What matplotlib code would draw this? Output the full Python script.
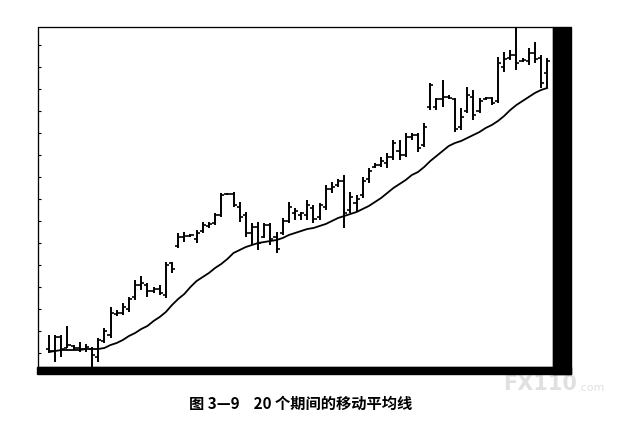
import matplotlib.pyplot as plt
from matplotlib.patches import Rectangle

plt.rcParams['font.family'] = ['Noto Sans CJK SC', 'DejaVu Sans']

# bar data (arbitrary price units)
highs = [38, 38, 38, 47, 28, 31, 29, 26, 35, 45, 66, 63, 70, 76, 93, 97, 90, 86, 88, 111,
         111, 140, 141, 139, 143, 151, 151, 160, 180, 180, 181, 171, 161, 150, 151, 150, 150, 141, 155, 171,
         165, 161, 173, 168, 170, 188, 191, 194, 198, 181, 178, 196, 205, 210, 216, 220, 233, 233, 240, 240,
         240, 250, 290, 275, 293, 278, 275, 265, 286, 283, 275, 276, 276, 316, 321, 323, 346, 315, 325, 331,
         318, 315]
lows = [20, 11, 16, 25, 23, 21, 21, 6, 11, 30, 35, 57, 58, 61, 73, 83, 76, 80, 78, 75,
        100, 125, 131, 136, 130, 140, 145, 148, 156, 178, 166, 151, 136, 128, 123, 135, 128, 120, 138, 150,
        153, 153, 153, 150, 153, 163, 180, 186, 145, 160, 161, 175, 190, 205, 206, 205, 213, 213, 216, 233,
        221, 226, 263, 263, 266, 274, 241, 243, 260, 253, 260, 273, 268, 270, 301, 313, 303, 311, 308, 310,
        285, 285]
opens = [24, 22, 36, 25, 27, 25, 24, 24, 16, 32, 38, 59, 60, 64, 76, 88, 88, 82, 84, 78,
         110, 127, 136, 137, 134, 142, 147, 150, 158, 179, 179, 166, 158, 140, 146, 136, 148, 136, 140, 152,
         160, 158, 158, 165, 156, 166, 184, 188, 192, 163, 170, 178, 194, 206, 208, 210, 216, 222, 218, 236,
         238, 228, 266, 266, 274, 276, 274, 246, 262, 276, 262, 274, 275, 272, 306, 315, 318, 312, 312, 320,
         315, 300]
closes = [22, 36, 24, 28, 25, 24, 26, 18, 33, 42, 60, 60, 66, 74, 88, 90, 82, 84, 80, 108,
          104, 136, 137, 138, 140, 148, 149, 158, 178, 179, 168, 156, 140, 146, 130, 148, 134, 124, 152, 166,
          162, 160, 168, 154, 168, 184, 186, 192, 160, 176, 174, 192, 202, 208, 212, 216, 230, 218, 236, 238,
          225, 246, 288, 274, 276, 275, 244, 256, 278, 258, 272, 275, 270, 310, 314, 318, 310, 313, 320, 314,
          290, 312]
# 20-period moving average line as drawn
ma20 = [21, 22, 23, 23, 23, 23, 24, 24, 24, 25, 28, 30, 33, 37, 40, 44, 47, 52, 56, 61,
        68, 74, 79, 86, 92, 96, 100, 105, 109, 114, 120, 123, 126, 128, 130, 131, 132, 133, 135, 138,
        140, 142, 144, 145, 147, 149, 152, 155, 157, 159, 161, 164, 167, 171, 175, 180, 185, 189, 193, 198,
        201, 206, 212, 217, 222, 227, 230, 232, 235, 238, 241, 245, 248, 252, 257, 263, 268, 272, 276, 280,
        283, 285]

caption = "图 3—9    20 个期间的移动平均线"

W, H = 619, 422
fig = plt.figure(figsize=(W / 100, H / 100), dpi=100)
ax = fig.add_axes([38 / W, (H - 367) / H, (553 - 38) / W, (367 - 27) / H])

idx = list(range(len(highs)))
ax.vlines(idx, lows, highs, color='black', lw=1.4)
tick = 0.5
ax.hlines(opens, [i - tick for i in idx], idx, color='black', lw=1.2)
ax.hlines(closes, idx, [i + tick for i in idx], color='black', lw=1.2)
ax.plot(idx, ma20, color='black', lw=1.3)

ax.set_xlim(-1.79, 81.95)
ax.set_ylim(6, 346)
ax.set_xticks([])
ax.set_yticks(range(20, 346, 22))
ax.tick_params(axis='y', direction='in', length=2, width=0.8, labelleft=False)
for s in ax.spines.values():
    s.set_linewidth(0.9)
    s.set_linestyle((0, (1, 0.6)))

# black bands on the right and bottom of the frame
fig.patches.append(Rectangle((553 / W, (H - 374) / H), 18 / W, 347 / H,
                             transform=fig.transFigure, color='black', zorder=5))
fig.patches.append(Rectangle((37 / W, (H - 374) / H), 534 / W, 7 / H,
                             transform=fig.transFigure, color='black', zorder=5))

# watermark
fig.text(503 / W, (H - 384) / H, "FX110", fontsize=15, fontweight='bold',
         color='#e0e0e0', va='center', ha='left', family='DejaVu Sans')
fig.text(578 / W, (H - 388) / H, ".com", fontsize=8, color='#e0e0e0',
         va='center', ha='left', family='DejaVu Sans')

fig.text(301 / W, (H - 404) / H, caption, fontsize=11, fontweight='bold',
         ha='center', va='center')

fig.savefig('out.png', dpi=100)
